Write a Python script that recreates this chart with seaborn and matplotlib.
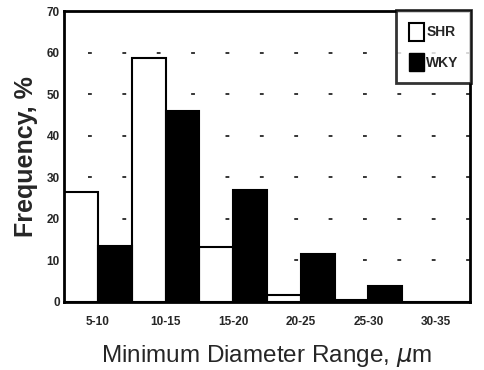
import matplotlib
matplotlib.use("Agg")
import matplotlib.pyplot as plt
import seaborn as sns
import pandas as pd
from matplotlib.patches import Patch

categories = ["5-10", "10-15", "15-20", "20-25", "25-30", "30-35"]
shr = [26.5, 58.8, 13.1, 1.7, 0.4, 0.0]
wky = [13.5, 46.0, 27.0, 11.5, 3.9, 0.0]
yticks = [0, 10, 20, 30, 40, 50, 60, 70]

sns.set_style("white")
plt.rcParams["font.family"] = ["Liberation Sans", "DejaVu Sans"]

df = pd.DataFrame({
    "range": categories * 2,
    "freq": shr + wky,
    "group": ["SHR"] * len(categories) + ["WKY"] * len(categories),
})

fig = plt.figure(figsize=(4.85, 3.70), dpi=100)
ax = fig.add_axes([0.132, 0.184, 0.837, 0.786])

sns.barplot(data=df, x="range", y="freq", hue="group", order=categories,
            hue_order=["SHR", "WKY"], palette={"SHR": "white", "WKY": "black"},
            edgecolor="black", linewidth=1.5, width=1.0, gap=0, ax=ax,
            saturation=1, legend=False)

ax.set_xlim(-0.5, 5.5)
ax.set_ylim(0, 70)
ax.set_yticks(yticks)
for y in yticks[1:-1]:
    ax.plot([-0.15, 5.5], [y, y], color="black", lw=1.1,
            linestyle=(0, (2.5, 20)), zorder=0)

for s in ax.spines.values():
    s.set_linewidth(2)
    s.set_color("black")

ax.tick_params(axis="both", length=0, labelsize=8.5)
for lab in ax.get_xticklabels() + ax.get_yticklabels():
    lab.set_fontweight("bold")
ax.tick_params(axis="x", pad=10)
ax.tick_params(axis="y", pad=3)

ax.set_xlabel("Minimum Diameter Range, $\\mu$m", fontsize=17.5, labelpad=11)
ax.set_ylabel("Frequency, %", fontsize=18, fontweight="bold", labelpad=6)

handles = [Patch(facecolor="white", edgecolor="black", linewidth=1.5, label="SHR"),
           Patch(facecolor="black", edgecolor="black", label="WKY")]
leg = ax.legend(handles=handles, loc="upper right", frameon=True, fancybox=False,
                bbox_to_anchor=(1.003, 1.003),
                borderaxespad=0, handlelength=1.1, handleheight=1.6,
                handletextpad=0.15, labelspacing=0.9, borderpad=0.9,
                prop={"weight": "bold", "size": 10})
leg.get_frame().set_edgecolor("black")
leg.get_frame().set_linewidth(2)

fig.savefig("out.png", dpi=100)
